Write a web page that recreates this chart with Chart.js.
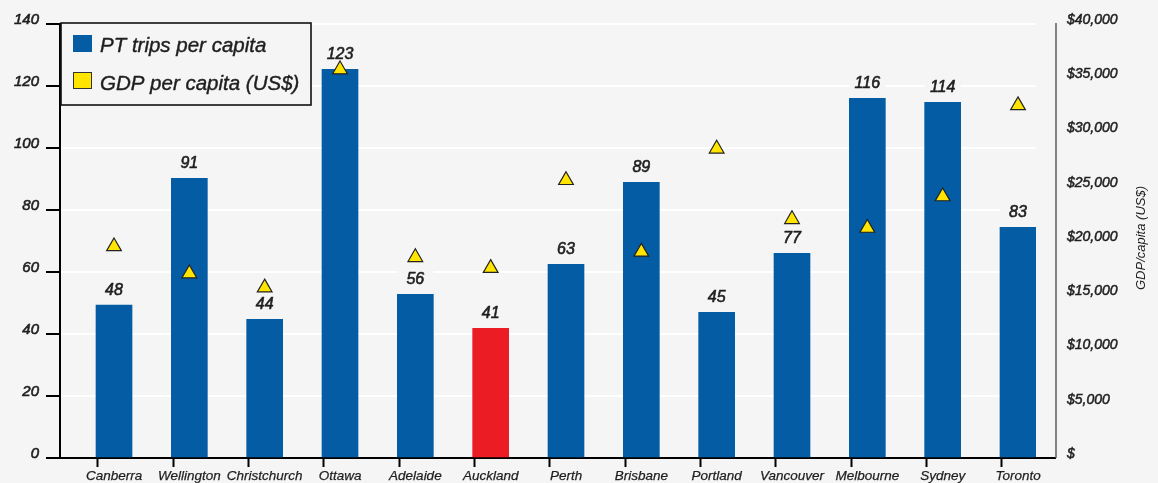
<!DOCTYPE html>
<html>
<head>
<meta charset="utf-8">
<title>PT trips per capita and GDP per capita</title>
<script src="https://cdn.jsdelivr.net/npm/chart.js@4.4.1/dist/chart.umd.min.js"></script>
<style>
  html, body { margin: 0; padding: 0; background: #f4f5f4; }
  #chart-wrap { width: 1158px; height: 483px; }
</style>
</head>
<body>
<div id="chart-wrap"><canvas id="pt-chart" width="1158" height="483"></canvas></div>
<script>
const cities = ["Canberra", "Wellington", "Christchurch", "Ottawa", "Adelaide", "Auckland",
  "Perth", "Brisbane", "Portland", "Vancouver", "Melbourne", "Sydney", "Toronto"];

// bar heights as drawn, and the numbers printed above them (they don't always agree)
const ptTrips = [49.3, 90.2, 44.7, 125.4, 52.8, 41.8, 62.5, 88.9, 47.0, 66.0, 116.0, 114.7, 74.4];
const ptTripLabels = ["48", "91", "44", "123", "56", "41", "63", "89", "45", "77", "116", "114", "83"];

const gdpPerCapita = [19500, 17000, 15700, 35800, 18500, 17500, 25600, 19000, 28500, 22000, 21200, 24100, 32500];

const highlightCity = "Auckland";

document.addEventListener("DOMContentLoaded", function () {
  const canvas = document.getElementById("pt-chart");

  const bgColor = "#f4f5f4";
  const blue = "#035ca4";
  const red = "#ec1c24";
  const yellow = "#ffe500";
  const textColor = "#1e1e1e";
  const fontFamily = "'Liberation Sans', Arial, sans-serif";

  const xPadLeft = 0.717;
  const xPadRight = 0.239;
  const tickShift = 0.216;
  const rightAxisGap = 20;

  // canvas text with a thin outline, to get the heavier look of the original
  function heavyText(ctx, text, x, y, strokeWidth) {
    ctx.lineWidth = strokeWidth;
    ctx.strokeStyle = ctx.fillStyle;
    ctx.lineJoin = "round";
    ctx.strokeText(text, x, y);
    ctx.fillText(text, x, y);
  }

  const chartDecor = {
    id: "chartDecor",
    beforeDraw(chart) {
      const ctx = chart.ctx;
      ctx.save();
      ctx.fillStyle = bgColor;
      ctx.fillRect(0, 0, chart.width, chart.height);
      ctx.restore();
    },
    beforeDatasetsDraw(chart) {
      // value labels sit on a background box, so they break the gridlines
      const ctx = chart.ctx;
      const xs = chart.scales.x;
      const ys = chart.scales.y;
      ctx.save();
      ctx.font = "italic 16px " + fontFamily;
      ctx.textAlign = "center";
      ctx.textBaseline = "middle";
      ptTrips.forEach((v, i) => {
        const x = xs.getPixelForValue(i);
        const y = ys.getPixelForValue(v) - 15;
        ctx.fillStyle = bgColor;
        ctx.fillRect(x - 18, y - 10, 36, 19);
        ctx.fillStyle = textColor;
        heavyText(ctx, ptTripLabels[i], x, y, 0.6);
      });
      ctx.restore();
    },
    afterDraw(chart) {
      const ctx = chart.ctx;
      const area = chart.chartArea;
      const axisX = area.right + rightAxisGap;
      ctx.save();

      // x axis runs on to the right-hand axis
      ctx.strokeStyle = "#000";
      ctx.lineWidth = 2;
      ctx.beginPath();
      ctx.moveTo(area.right - 1, area.bottom);
      ctx.lineTo(axisX, area.bottom);
      ctx.stroke();

      ctx.strokeStyle = "#666";
      ctx.lineWidth = 1.6;
      ctx.beginPath();
      ctx.moveTo(axisX, area.top - 1);
      ctx.lineTo(axisX, area.bottom);
      ctx.stroke();

      // right axis title, reading bottom to top
      ctx.fillStyle = textColor;
      ctx.font = "italic 13px " + fontFamily;
      ctx.textAlign = "center";
      ctx.textBaseline = "middle";
      ctx.translate(chart.width - 17, (area.top + area.bottom) / 2 - 3);
      ctx.rotate(-Math.PI / 2);
      ctx.fillText("GDP/capita (US$)", 0, 0);
      ctx.setTransform(1, 0, 0, 1, 0, 0);

      // legend box
      const lx = area.left + 1;
      const ly = area.top - 1;
      ctx.fillStyle = bgColor;
      ctx.fillRect(lx, ly, 250, 82);
      ctx.strokeStyle = "#111";
      ctx.lineWidth = 1.6;
      ctx.strokeRect(lx, ly, 250, 82);

      ctx.fillStyle = blue;
      ctx.fillRect(lx + 12, ly + 12, 19, 17);
      ctx.fillStyle = yellow;
      ctx.fillRect(lx + 12, ly + 49, 19, 17);
      ctx.strokeStyle = "#333";
      ctx.lineWidth = 1;
      ctx.strokeRect(lx + 12.5, ly + 49.5, 18, 16);

      ctx.fillStyle = textColor;
      ctx.font = "italic 20.5px " + fontFamily;
      ctx.textAlign = "left";
      heavyText(ctx, "PT trips per capita", lx + 39, ly + 23, 0.4);
      heavyText(ctx, "GDP per capita (US$)", lx + 39, ly + 61, 0.4);

      ctx.restore();
    }
  };

  new Chart(canvas, {
    type: "bar",
    data: {
      datasets: [
        {
          type: "line",
          label: "GDP per capita (US$)",
          data: gdpPerCapita.map((v, i) => ({ x: i, y: v })),
          yAxisID: "y2",
          showLine: false,
          pointStyle: "triangle",
          pointRadius: 8.5,
          pointBackgroundColor: yellow,
          pointBorderColor: "#222",
          pointBorderWidth: 1.2,
          order: 0
        },
        {
          label: "PT trips per capita",
          data: ptTrips.map((v, i) => ({ x: i, y: v })),
          yAxisID: "y",
          backgroundColor: cities.map(c => c === highlightCity ? red : blue),
          barThickness: 36,
          order: 1
        }
      ]
    },
    options: {
      responsive: false,
      animation: false,
      events: [],
      layout: { padding: { top: 24, left: 0, right: 0, bottom: 0 } },
      plugins: {
        legend: { display: false },
        tooltip: { enabled: false }
      },
      scales: {
        x: {
          type: "linear",
          offset: false,
          min: -xPadLeft,
          max: cities.length - 1 + xPadRight,
          afterBuildTicks: scale => {
            scale.ticks = cities.map((c, i) => ({ value: i - tickShift }));
          },
          afterFit: scale => { scale.height = 25; },
          grid: {
            offset: false,
            drawOnChartArea: false,
            tickLength: 9,
            tickWidth: 2,
            tickColor: "#000"
          },
          border: { color: "#000", width: 2 },
          ticks: {
            callback: (value, index) => cities[index],
            autoSkip: false,
            maxRotation: 0,
            labelOffset: 16.3,
            padding: 1,
            color: textColor,
            textStrokeColor: textColor,
            textStrokeWidth: 0.25,
            font: { family: fontFamily, style: "italic", size: 13.5 }
          }
        },
        y: {
          position: "left",
          min: 0,
          max: 140,
          afterFit: scale => { scale.width = 60; },
          grid: {
            color: ctx => ctx.tick && ctx.tick.value === 0 ? "rgba(0,0,0,0)" : "#ffffff",
            lineWidth: 2,
            tickLength: 14,
            tickWidth: 2,
            tickColor: "#000"
          },
          border: { color: "#000", width: 2 },
          ticks: {
            stepSize: 20,
            padding: 7,
            labelOffset: -4,
            color: textColor,
            textStrokeColor: textColor,
            textStrokeWidth: 0.6,
            font: { family: fontFamily, style: "italic", size: 15 }
          }
        },
        y2: {
          position: "right",
          min: 0,
          max: 40000,
          afterFit: scale => { scale.width = 122; },
          grid: { display: false, drawTicks: true, tickLength: 29 },
          border: { display: false },
          ticks: {
            stepSize: 5000,
            padding: 2,
            labelOffset: -4,
            color: textColor,
            textStrokeColor: textColor,
            textStrokeWidth: 0.5,
            font: { family: fontFamily, style: "italic", size: 14 },
            callback: value => value === 0 ? "$" : "$" + value.toLocaleString("en-US")
          }
        }
      }
    },
    plugins: [chartDecor]
  });
});
</script>
</body>
</html>
